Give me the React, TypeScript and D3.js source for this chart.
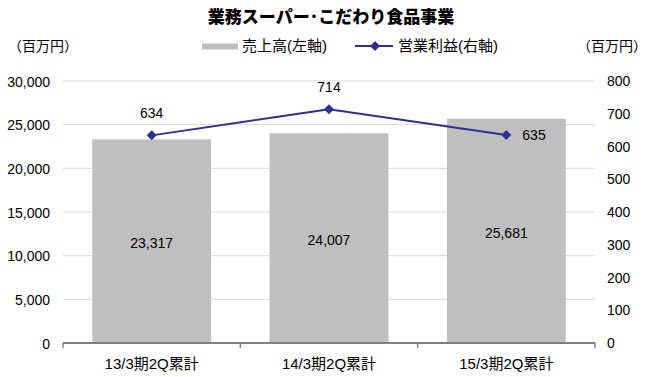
import React from "react";
import * as d3 from "d3";

const categories = ["13/3期2Q累計", "14/3期2Q累計", "15/3期2Q累計"];
const sales = [23317, 24007, 25681];
const profit = [634, 714, 635];
const leftTicks = [0, 5000, 10000, 15000, 20000, 25000, 30000];
const rightTicks = [0, 100, 200, 300, 400, 500, 600, 700, 800];

const W = 648, H = 377;
const L = 63, R = 595, T = 81, B = 343;
const FONT = "'Liberation Sans', 'Noto Sans CJK JP', Arial, sans-serif";

export default function App() {
  const x = d3.scaleBand<string>().domain(categories).range([L, R]).paddingInner(0.33).paddingOuter(0.165);
  const xb = d3.scaleBand<string>().domain(categories).range([L, R]);
  const yL = d3.scaleLinear().domain([0, 30000]).range([B, T]);
  const yR = d3.scaleLinear().domain([0, 800]).range([B, T]);
  const fmt = d3.format(",");
  const line = d3.line<number>().x((_, i) => xb(categories[i])! + xb.bandwidth() / 2).y((d) => yR(d));
  const marker = d3.symbol().type(d3.symbolSquare).size(50)();
  const lineColor = "#2E3192";
  return (
    <svg width={W} height={H} style={{ position: "absolute", left: 0, top: 0, background: "#fff" }} fontFamily={FONT}>
      <text x={331} y={23} textAnchor="middle" fontSize={17} fontWeight="900">業務スーパー･こだわり食品事業</text>
      <text x={43} y={51} textAnchor="middle" fontSize={14}>（百万円）</text>
      <text x={612} y={51} textAnchor="middle" fontSize={14}>（百万円）</text>
      <rect x={202} y={43.5} width={36} height={6} fill="#BFBFBF" />
      <text x={242} y={51} fontSize={15}>売上高(左軸)</text>
      <line x1={355} x2={393} y1={46} y2={46} stroke={lineColor} strokeWidth={2} />
      <path d={marker} transform="translate(375,46) rotate(45)" fill={lineColor} />
      <text x={398} y={51} fontSize={15}>営業利益(右軸)</text>
      {leftTicks.filter((t) => t > 0).map((t) => (
        <line key={t} x1={L} x2={R} y1={yL(t)} y2={yL(t)} stroke="#D9D9D9" strokeWidth={1} />
      ))}
      {leftTicks.map((t) => (
        <text key={t} x={50} y={yL(t) + 5.5} textAnchor="end" fontSize={14}>{fmt(t)}</text>
      ))}
      {rightTicks.map((t) => (
        <text key={t} x={607} y={yR(t) + 5} textAnchor="start" fontSize={14}>{t}</text>
      ))}
      {categories.map((c, i) => (
        <rect key={c} x={x(c)} y={yL(sales[i])} width={x.bandwidth()} height={B - yL(sales[i])} fill="#BFBFBF" />
      ))}
      <line x1={L} x2={R} y1={B} y2={B} stroke="#808080" strokeWidth={2} />
      {[0, 1, 2, 3].map((i) => (
        <line key={i} x1={L + i * xb.bandwidth()} x2={L + i * xb.bandwidth()} y1={B} y2={B + 5} stroke="#808080" strokeWidth={1.5} />
      ))}
      {categories.map((c) => (
        <text key={c} x={xb(c)! + xb.bandwidth() / 2} y={369} textAnchor="middle" fontSize={15}>{c}</text>
      ))}
      {categories.map((c, i) => (
        <text key={c} x={x(c)! + x.bandwidth() / 2} y={(yL(sales[i]) + B) / 2 + 7} textAnchor="middle" fontSize={14}>{fmt(sales[i])}</text>
      ))}
      <path d={line(profit)!} fill="none" stroke={lineColor} strokeWidth={2} />
      {profit.map((p, i) => (
        <path key={i} d={marker} transform={`translate(${xb(categories[i])! + xb.bandwidth() / 2},${yR(p)}) rotate(45)`} fill={lineColor} />
      ))}
      {profit.map((p, i) => {
        const cx = xb(categories[i])! + xb.bandwidth() / 2;
        const cy = yR(p);
        return i === 2 ? (
          <text key={i} x={cx + 16} y={cy + 5} fontSize={14}>{p}</text>
        ) : (
          <text key={i} x={cx} y={cy - 17} textAnchor="middle" fontSize={14}>{p}</text>
        );
      })}
    </svg>
  );
}
